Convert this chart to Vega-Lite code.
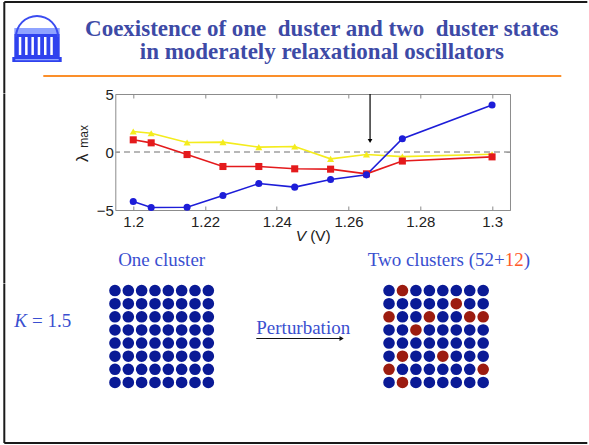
{
  "$schema": "https://vega.github.io/schema/vega-lite/v6.json",
  "background": "white",
  "padding": {"left": 3.3, "top": 1, "right": 0, "bottom": 0},
  "config": {"view": {"stroke": null}},
  "datasets": {
    "lambda": [
      {"V": 1.2, "series": "upper", "value": 1.77},
      {"V": 1.205, "series": "upper", "value": 1.62},
      {"V": 1.215, "series": "upper", "value": 0.82},
      {"V": 1.225, "series": "upper", "value": 0.85},
      {"V": 1.235, "series": "upper", "value": 0.42},
      {"V": 1.245, "series": "upper", "value": 0.47},
      {"V": 1.255, "series": "upper", "value": -0.59},
      {"V": 1.265, "series": "upper", "value": -0.22},
      {"V": 1.275, "series": "upper", "value": -0.40},
      {"V": 1.3, "series": "upper", "value": -0.20},
      {"V": 1.2, "series": "middle", "value": 1.05},
      {"V": 1.205, "series": "middle", "value": 0.79},
      {"V": 1.215, "series": "middle", "value": -0.22},
      {"V": 1.225, "series": "middle", "value": -1.25},
      {"V": 1.235, "series": "middle", "value": -1.25},
      {"V": 1.245, "series": "middle", "value": -1.45},
      {"V": 1.255, "series": "middle", "value": -1.48},
      {"V": 1.265, "series": "middle", "value": -1.88},
      {"V": 1.275, "series": "middle", "value": -0.78},
      {"V": 1.3, "series": "middle", "value": -0.42},
      {"V": 1.2, "series": "lower", "value": -4.27},
      {"V": 1.205, "series": "lower", "value": -4.78},
      {"V": 1.215, "series": "lower", "value": -4.76},
      {"V": 1.225, "series": "lower", "value": -3.75},
      {"V": 1.235, "series": "lower", "value": -2.72},
      {"V": 1.245, "series": "lower", "value": -3.03},
      {"V": 1.255, "series": "lower", "value": -2.37},
      {"V": 1.265, "series": "lower", "value": -1.97},
      {"V": 1.275, "series": "lower", "value": 1.14},
      {"V": 1.3, "series": "lower", "value": 4.05}
    ],
    "marker": [{"V": 1.266, "top": 5, "tip": 0.95}],
    "logoParts": [
      {"part": "band", "x": 2, "x2": 47.4, "y": 13, "y2": 19},
      {"part": "body", "x": 2, "x2": 47.4, "y": 19, "y2": 43},
      {"part": "column", "x": 6.5, "x2": 9, "y": 22, "y2": 40},
      {"part": "column", "x": 12.8, "x2": 15.3, "y": 22, "y2": 40},
      {"part": "column", "x": 19.1, "x2": 21.6, "y": 22, "y2": 40},
      {"part": "column", "x": 25.4, "x2": 27.9, "y": 22, "y2": 40},
      {"part": "column", "x": 31.7, "x2": 34.2, "y": 22, "y2": 40},
      {"part": "column", "x": 38, "x2": 40.5, "y": 22, "y2": 40},
      {"part": "base", "x": 0, "x2": 49.4, "y": 42, "y2": 47},
      {"part": "band", "x": 3, "x2": 46.4, "y": 44, "y2": 45.3}
    ],
    "oneCluster": [
      {"row":0,"col":0,"cluster":1},{"row":0,"col":1,"cluster":1},{"row":0,"col":2,"cluster":1},{"row":0,"col":3,"cluster":1},{"row":0,"col":4,"cluster":1},{"row":0,"col":5,"cluster":1},{"row":0,"col":6,"cluster":1},{"row":0,"col":7,"cluster":1},
      {"row":1,"col":0,"cluster":1},{"row":1,"col":1,"cluster":1},{"row":1,"col":2,"cluster":1},{"row":1,"col":3,"cluster":1},{"row":1,"col":4,"cluster":1},{"row":1,"col":5,"cluster":1},{"row":1,"col":6,"cluster":1},{"row":1,"col":7,"cluster":1},
      {"row":2,"col":0,"cluster":1},{"row":2,"col":1,"cluster":1},{"row":2,"col":2,"cluster":1},{"row":2,"col":3,"cluster":1},{"row":2,"col":4,"cluster":1},{"row":2,"col":5,"cluster":1},{"row":2,"col":6,"cluster":1},{"row":2,"col":7,"cluster":1},
      {"row":3,"col":0,"cluster":1},{"row":3,"col":1,"cluster":1},{"row":3,"col":2,"cluster":1},{"row":3,"col":3,"cluster":1},{"row":3,"col":4,"cluster":1},{"row":3,"col":5,"cluster":1},{"row":3,"col":6,"cluster":1},{"row":3,"col":7,"cluster":1},
      {"row":4,"col":0,"cluster":1},{"row":4,"col":1,"cluster":1},{"row":4,"col":2,"cluster":1},{"row":4,"col":3,"cluster":1},{"row":4,"col":4,"cluster":1},{"row":4,"col":5,"cluster":1},{"row":4,"col":6,"cluster":1},{"row":4,"col":7,"cluster":1},
      {"row":5,"col":0,"cluster":1},{"row":5,"col":1,"cluster":1},{"row":5,"col":2,"cluster":1},{"row":5,"col":3,"cluster":1},{"row":5,"col":4,"cluster":1},{"row":5,"col":5,"cluster":1},{"row":5,"col":6,"cluster":1},{"row":5,"col":7,"cluster":1},
      {"row":6,"col":0,"cluster":1},{"row":6,"col":1,"cluster":1},{"row":6,"col":2,"cluster":1},{"row":6,"col":3,"cluster":1},{"row":6,"col":4,"cluster":1},{"row":6,"col":5,"cluster":1},{"row":6,"col":6,"cluster":1},{"row":6,"col":7,"cluster":1},
      {"row":7,"col":0,"cluster":1},{"row":7,"col":1,"cluster":1},{"row":7,"col":2,"cluster":1},{"row":7,"col":3,"cluster":1},{"row":7,"col":4,"cluster":1},{"row":7,"col":5,"cluster":1},{"row":7,"col":6,"cluster":1},{"row":7,"col":7,"cluster":1}
    ],
    "twoClusters": [
      {"row":0,"col":0,"cluster":1},{"row":0,"col":1,"cluster":2},{"row":0,"col":2,"cluster":1},{"row":0,"col":3,"cluster":1},{"row":0,"col":4,"cluster":1},{"row":0,"col":5,"cluster":1},{"row":0,"col":6,"cluster":1},{"row":0,"col":7,"cluster":1},
      {"row":1,"col":0,"cluster":1},{"row":1,"col":1,"cluster":1},{"row":1,"col":2,"cluster":1},{"row":1,"col":3,"cluster":1},{"row":1,"col":4,"cluster":1},{"row":1,"col":5,"cluster":2},{"row":1,"col":6,"cluster":1},{"row":1,"col":7,"cluster":1},
      {"row":2,"col":0,"cluster":2},{"row":2,"col":1,"cluster":1},{"row":2,"col":2,"cluster":1},{"row":2,"col":3,"cluster":2},{"row":2,"col":4,"cluster":1},{"row":2,"col":5,"cluster":1},{"row":2,"col":6,"cluster":2},{"row":2,"col":7,"cluster":2},
      {"row":3,"col":0,"cluster":1},{"row":3,"col":1,"cluster":1},{"row":3,"col":2,"cluster":2},{"row":3,"col":3,"cluster":1},{"row":3,"col":4,"cluster":1},{"row":3,"col":5,"cluster":1},{"row":3,"col":6,"cluster":1},{"row":3,"col":7,"cluster":1},
      {"row":4,"col":0,"cluster":1},{"row":4,"col":1,"cluster":1},{"row":4,"col":2,"cluster":1},{"row":4,"col":3,"cluster":1},{"row":4,"col":4,"cluster":1},{"row":4,"col":5,"cluster":1},{"row":4,"col":6,"cluster":1},{"row":4,"col":7,"cluster":1},
      {"row":5,"col":0,"cluster":1},{"row":5,"col":1,"cluster":2},{"row":5,"col":2,"cluster":1},{"row":5,"col":3,"cluster":1},{"row":5,"col":4,"cluster":2},{"row":5,"col":5,"cluster":1},{"row":5,"col":6,"cluster":1},{"row":5,"col":7,"cluster":1},
      {"row":6,"col":0,"cluster":2},{"row":6,"col":1,"cluster":1},{"row":6,"col":2,"cluster":1},{"row":6,"col":3,"cluster":1},{"row":6,"col":4,"cluster":1},{"row":6,"col":5,"cluster":1},{"row":6,"col":6,"cluster":1},{"row":6,"col":7,"cluster":2},
      {"row":7,"col":0,"cluster":1},{"row":7,"col":1,"cluster":2},{"row":7,"col":2,"cluster":1},{"row":7,"col":3,"cluster":1},{"row":7,"col":4,"cluster":1},{"row":7,"col":5,"cluster":1},{"row":7,"col":6,"cluster":1},{"row":7,"col":7,"cluster":1}
    ]
  },
  "spacing": 0,
  "bounds": "flush",
  "resolve": {"scale": {"color": "independent", "shape": "independent"}},
  "vconcat": [
    {
      "width": 583,
      "height": 13,
      "data": {"values": [{}]},
      "layer": [
        {"mark": {"type": "rule", "stroke": "#1a1a1a", "strokeWidth": 2},
         "encoding": {"x": {"datum": 0, "scale": {"domain": [0, 1]}, "axis": null}}},
        {"mark": {"type": "rule", "stroke": "#1a1a1a", "strokeWidth": 2},
         "encoding": {"y": {"datum": 1, "scale": {"domain": [0, 1]}, "axis": null}}}
      ]
    },
    {
      "spacing": 0,
      "bounds": "flush",
      "resolve": {"scale": {"color": "independent"}},
      "hconcat": [
        {"width": 8, "height": 1, "data": {"values": []}, "mark": "point"},
        {
          "width": 49.4,
          "height": 61,
          "layer": [
            {
              "data": {"name": "logoParts"},
              "mark": {"type": "rect"},
              "encoding": {
                "x": {"field": "x", "type": "quantitative", "scale": {"domain": [0, 49.4], "nice": false, "zero": false}, "axis": null},
                "x2": {"field": "x2"},
                "y": {"field": "y", "type": "quantitative", "scale": {"domain": [0, 61], "nice": false, "zero": false, "reverse": true}, "axis": null},
                "y2": {"field": "y2"},
                "color": {"field": "part", "type": "nominal", "scale": {"domain": ["band", "body", "column", "base"], "range": ["#8fa3ff", "#2f42ee", "#ffffff", "#2f42ee"]}, "legend": null}
              }
            },
            {
              "data": {"values": [{}]},
              "mark": {"type": "arc", "radius": 22, "radius2": 20, "theta": -1.5708, "theta2": 1.5708, "color": "#3a4cf0"},
              "encoding": {"x": {"datum": 24.7, "axis": null}, "y": {"datum": 22, "axis": null}}
            }
          ]
        }
      ]
    },
    {
      "width": 583,
      "height": 61,
      "data": {"values": [{}]},
      "mark": {"type": "rule", "stroke": "#1a1a1a", "strokeWidth": 2},
      "encoding": {"x": {"datum": 0, "scale": {"domain": [0, 1]}, "axis": null}}
    },
    {
      "spacing": 0,
      "bounds": "flush",
      "hconcat": [
        {"width": 38.7, "height": 1, "data": {"values": []}, "mark": "point"},
        {
          "width": 518,
          "height": 1,
          "title": {
            "text": ["Coexistence of one\u00a0\u00a0duster and two\u00a0\u00a0duster states", "in moderately relaxational oscillators"],
            "anchor": "middle",
            "frame": "group",
            "dx": 19.5,
            "offset": -7,
            "font": "Liberation Serif",
            "fontSize": 23,
            "fontWeight": "bold",
            "color": "#3d4aa6",
            "lineHeight": 23,
            "baseline": "alphabetic"
          },
          "data": {"values": [{}]},
          "mark": {"type": "rule", "stroke": "#fb8f2a", "strokeWidth": 2},
          "encoding": {
            "x": {"datum": 0, "scale": {"domain": [0, 1]}, "axis": null},
            "x2": {"datum": 1},
            "y": {"datum": 1, "scale": {"domain": [0, 1]}, "axis": null}
          }
        }
      ]
    },
    {
      "width": 583,
      "height": 17.5,
      "data": {"values": [{}]},
      "mark": {"type": "rule", "stroke": "#1a1a1a", "strokeWidth": 2},
      "encoding": {"x": {"datum": 0, "scale": {"domain": [0, 1]}, "axis": null}}
    },
    {
      "spacing": 0,
      "bounds": "flush",
      "resolve": {"scale": {"color": "independent", "shape": "independent"}},
      "hconcat": [
        {"width": 111, "height": 1, "data": {"values": []}, "mark": "point"},
        {
          "width": 394.7,
          "height": 116,
          "view": {"stroke": "#8c8c8c", "strokeWidth": 1},
          "layer": [
            {
              "data": {"values": [{}]},
              "mark": {"type": "rule", "stroke": "#a0a0a0", "strokeWidth": 1.5, "strokeDash": [6, 4]},
              "encoding": {"y": {"datum": 0, "type": "quantitative", "axis": null}}
            },
            {
              "data": {"name": "lambda"},
              "mark": {"type": "line", "strokeWidth": 1.6},
              "encoding": {
                "x": {"field": "V", "type": "quantitative", "scale": {"domain": [1.195, 1.305], "nice": false, "zero": false},
                      "axis": {"orient": "bottom", "values": [1.2, 1.22, 1.24, 1.26, 1.28, 1.3], "format": ".2~f", "title": null, "domain": false, "grid": false,
                               "tickSize": -4, "tickColor": "#8c8c8c", "labelFont": "Liberation Sans", "labelFontSize": 15, "labelColor": "#222222",
                               "labelPadding": 8.5, "labelFlush": false, "labelOverlap": false}},
                "y": {"field": "value", "type": "quantitative", "scale": {"domain": [-5, 5], "nice": false, "zero": false},
                      "axis": {"orient": "left", "values": [-5, 0, 5], "format": "d", "title": null, "domain": false, "grid": false,
                               "tickSize": -4, "tickColor": "#8c8c8c", "labelFont": "Liberation Sans", "labelFontSize": 15, "labelColor": "#222222",
                               "labelPadding": 6, "labelFlush": false, "labelOverlap": false}},
                "color": {"field": "series", "type": "nominal", "scale": {"domain": ["lower", "middle", "upper"], "range": ["#1d1dd8", "#e41a1c", "#f4ec1c"]}, "legend": null}
              }
            },
            {
              "data": {"name": "lambda"},
              "mark": {"type": "point", "filled": true, "opacity": 1, "size": 50},
              "encoding": {
                "x": {"field": "V", "type": "quantitative",
                      "axis": {"orient": "top", "values": [1.2, 1.22, 1.24, 1.26, 1.28, 1.3], "labels": false, "title": null, "domain": false, "grid": false, "tickSize": -4, "tickColor": "#8c8c8c"}},
                "y": {"field": "value", "type": "quantitative",
                      "axis": {"orient": "right", "values": [-5, 0, 5], "labels": false, "title": null, "domain": false, "grid": false, "tickSize": -4, "tickColor": "#8c8c8c"}},
                "color": {"field": "series", "type": "nominal", "legend": null},
                "shape": {"field": "series", "type": "nominal", "scale": {"domain": ["lower", "middle", "upper"], "range": ["circle", "square", "triangle-up"]}, "legend": null}
              }
            },
            {
              "data": {"name": "marker"},
              "mark": {"type": "rule", "stroke": "#000000", "strokeWidth": 1.2},
              "encoding": {
                "x": {"field": "V", "type": "quantitative", "axis": null},
                "y": {"field": "top", "type": "quantitative", "axis": null},
                "y2": {"field": "tip"}
              }
            },
            {
              "data": {"name": "marker"},
              "mark": {"type": "point", "shape": "triangle-down", "filled": true, "color": "#000000", "size": 22, "opacity": 1},
              "encoding": {
                "x": {"field": "V", "type": "quantitative", "axis": null},
                "y": {"field": "tip", "type": "quantitative", "axis": null}
              }
            },
            {
              "data": {"values": [{}]},
              "mark": {"type": "text", "text": "λ", "font": "Liberation Sans", "fontSize": 17, "angle": 270, "color": "#222222"},
              "encoding": {"x": {"datum": 1.1861, "axis": null}, "y": {"datum": -0.5, "axis": null}}
            },
            {
              "data": {"values": [{}]},
              "mark": {"type": "text", "text": "max", "font": "Liberation Sans", "fontSize": 12, "angle": 270, "color": "#222222"},
              "encoding": {"x": {"datum": 1.1864, "axis": null}, "y": {"datum": 1.35, "axis": null}}
            },
            {
              "data": {"values": [{}]},
              "mark": {"type": "text", "text": "V", "font": "Liberation Sans", "fontStyle": "italic", "fontSize": 15.5, "align": "right", "color": "#222222"},
              "encoding": {"x": {"datum": 1.2482, "axis": null}, "y": {"datum": -7.25, "axis": null}}
            },
            {
              "data": {"values": [{}]},
              "mark": {"type": "text", "text": "(V)", "font": "Liberation Sans", "fontSize": 15.5, "align": "left", "color": "#222222"},
              "encoding": {"x": {"datum": 1.2493, "axis": null}, "y": {"datum": -7.25, "axis": null}}
            }
          ],
          "resolve": {"axis": {"x": "independent", "y": "independent"}}
        }
      ]
    },
    {
      "width": 583,
      "height": 189.5,
      "data": {"values": [{}]},
      "mark": {"type": "rule", "stroke": "#1a1a1a", "strokeWidth": 2},
      "encoding": {"x": {"datum": 0, "scale": {"domain": [0, 1]}, "axis": null}}
    },
    {
      "spacing": 0,
      "bounds": "flush",
      "hconcat": [
        {"width": 10, "height": 1, "data": {"values": []}, "mark": "point"},
        {
          "width": 57,
          "height": 43,
          "data": {"values": [{}]},
          "layer": [
            {
              "mark": {"type": "text", "text": "K", "font": "Liberation Serif", "fontStyle": "italic", "fontSize": 19, "align": "left", "baseline": "alphabetic", "color": "#3a4fd0"},
              "encoding": {"x": {"datum": 0, "scale": {"domain": [0, 1]}, "axis": null}, "y": {"datum": 0, "scale": {"domain": [0, 1]}, "axis": null}}
            },
            {
              "mark": {"type": "text", "text": "= 1.5", "font": "Liberation Serif", "fontSize": 19, "align": "right", "baseline": "alphabetic", "color": "#3a4fd0"},
              "encoding": {"x": {"datum": 1, "axis": null}, "y": {"datum": 0, "axis": null}}
            }
          ]
        },
        {"width": 36.9, "height": 1, "data": {"values": []}, "mark": "point"},
        {
          "width": 106.7,
          "height": 105,
          "layer": [
            {
              "data": {"name": "oneCluster"},
              "mark": {"type": "circle", "opacity": 1, "size": 135},
              "encoding": {
                "x": {"field": "col", "type": "quantitative", "scale": {"domain": [-0.5, 7.5], "nice": false, "zero": false}, "axis": null},
                "y": {"field": "row", "type": "quantitative", "scale": {"domain": [-0.5, 7.5], "nice": false, "zero": false, "reverse": true}, "axis": null},
                "color": {"field": "cluster", "type": "nominal", "scale": {"domain": [1, 2], "range": ["#0a1a96", "#9c1c10"]}, "legend": null}
              }
            },
            {
              "data": {"values": [{}]},
              "mark": {"type": "text", "text": "One cluster", "font": "Liberation Serif", "fontSize": 19, "color": "#3a4fd0", "baseline": "alphabetic", "dy": -18},
              "encoding": {"x": {"datum": 3.5, "axis": null}, "y": {"datum": -0.5, "axis": null}}
            }
          ]
        },
        {"width": 40.6, "height": 1, "data": {"values": []}, "mark": "point"},
        {
          "width": 88.4,
          "height": 54.5,
          "data": {"values": [{}]},
          "layer": [
            {
              "mark": {"type": "rule", "stroke": "#111111", "strokeWidth": 1.2},
              "encoding": {"x": {"datum": 0, "scale": {"domain": [0, 1]}, "axis": null}, "x2": {"datum": 0.95}, "y": {"datum": 0, "scale": {"domain": [0, 1]}, "axis": null}}
            },
            {
              "mark": {"type": "point", "shape": "triangle-right", "filled": true, "color": "#111111", "size": 24, "opacity": 1},
              "encoding": {"x": {"datum": 0.965, "axis": null}, "y": {"datum": 0, "axis": null}}
            },
            {
              "mark": {"type": "text", "text": "Perturbation", "font": "Liberation Serif", "fontSize": 19, "color": "#3a4fd0", "align": "left", "baseline": "alphabetic", "dy": -4.5},
              "encoding": {"x": {"datum": 0, "axis": null}, "y": {"datum": 0, "axis": null}}
            }
          ]
        },
        {"width": 36.7, "height": 1, "data": {"values": []}, "mark": "point"},
        {
          "width": 107.6,
          "height": 105,
          "layer": [
            {
              "data": {"name": "twoClusters"},
              "mark": {"type": "circle", "opacity": 1, "size": 135},
              "encoding": {
                "x": {"field": "col", "type": "quantitative", "scale": {"domain": [-0.5, 7.5], "nice": false, "zero": false}, "axis": null},
                "y": {"field": "row", "type": "quantitative", "scale": {"domain": [-0.5, 7.5], "nice": false, "zero": false, "reverse": true}, "axis": null},
                "color": {"field": "cluster", "type": "nominal", "scale": {"domain": [1, 2], "range": ["#0a1a96", "#9c1c10"]}, "legend": null}
              }
            },
            {
              "data": {"values": [{}]},
              "mark": {"type": "text", "text": "Two clusters (52+", "font": "Liberation Serif", "fontSize": 19, "color": "#3a4fd0", "align": "right", "baseline": "alphabetic", "dy": -18},
              "encoding": {"x": {"datum": 8.6, "axis": null}, "y": {"datum": -0.5, "axis": null}}
            },
            {
              "data": {"values": [{}]},
              "mark": {"type": "text", "text": "12", "font": "Liberation Serif", "fontSize": 19, "color": "#ff5a28", "align": "left", "baseline": "alphabetic", "dy": -18},
              "encoding": {"x": {"datum": 8.6, "axis": null}, "y": {"datum": -0.5, "axis": null}}
            },
            {
              "data": {"values": [{}]},
              "mark": {"type": "text", "text": ")", "font": "Liberation Serif", "fontSize": 19, "color": "#3a4fd0", "align": "left", "baseline": "alphabetic", "dx": 19, "dy": -18},
              "encoding": {"x": {"datum": 8.6, "axis": null}, "y": {"datum": -0.5, "axis": null}}
            }
          ]
        }
      ]
    },
    {
      "width": 583,
      "height": 159,
      "data": {"values": [{}]},
      "layer": [
        {"mark": {"type": "rule", "stroke": "#1a1a1a", "strokeWidth": 2},
         "encoding": {"x": {"datum": 0, "scale": {"domain": [0, 1]}, "axis": null}}},
        {"mark": {"type": "rule", "stroke": "#1a1a1a", "strokeWidth": 2},
         "encoding": {"y": {"datum": 0, "scale": {"domain": [0, 1]}, "axis": null}}}
      ]
    }
  ]
}
